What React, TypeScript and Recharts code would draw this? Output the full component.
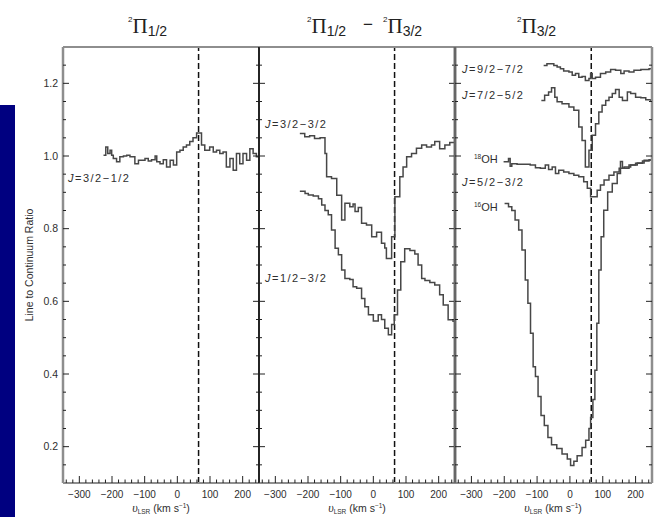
import React from "react";
import { LineChart, Line, XAxis, YAxis, ReferenceLine } from "recharts";

// Axis ranges, ticks and labels
const velocityDomain: [number, number] = [-350, 250];
const ratioDomain: [number, number] = [0.1, 1.3];
const velocityTicks = [
  -340, -320, -300, -280, -260, -240, -220, -200, -180, -160, -140, -120, -100, -80, -60, -40, -20,
  0, 20, 40, 60, 80, 100, 120, 140, 160, 180, 200, 220, 240,
];
const velocityLabels = [-300, -200, -100, 0, 100, 200];
const ratioTicks = [
  0.15, 0.2, 0.25, 0.3, 0.35, 0.4, 0.45, 0.5, 0.55, 0.6, 0.65, 0.7, 0.75, 0.8, 0.85, 0.9, 0.95, 1.0,
  1.05, 1.1, 1.15, 1.2, 1.25,
];
const ratioLabels = [0.2, 0.4, 0.6, 0.8, 1.0, 1.2];
const systemicVelocity = 65;

// 2Π1/2  J=3/2−1/2
const j32to12Vel = [
  -226, -219, -213, -206, -201, -196, -186, -176, -165, -155, -145, -130, -119, -99, -89, -79, -68,
  -63, -53, -43, -33, -22, -12, -2, 8, 18, 28, 38, 48, 59, 74, 84, 99, 110, 120, 130, 140, 150, 161,
  171, 181, 191, 201, 212, 222, 232, 242, 250,
];
const j32to12Ratio = [
  1.002, 1.025, 1.007, 1.016, 1.002, 0.993, 0.984, 0.998, 1.0, 1.002, 0.998, 0.979, 0.988, 0.993,
  0.986, 0.99, 1.0, 0.984, 0.979, 0.99, 0.97, 0.988, 0.975, 1.011, 1.016, 1.025, 1.03, 1.04, 1.05,
  1.063, 1.03, 1.016, 1.025, 1.011, 1.016, 1.007, 1.011, 0.97, 0.993, 0.961, 1.007, 0.979, 1.007,
  0.988, 1.02, 1.007, 0.998, 0.998,
];

// 2Π1/2 − 2Π3/2  J=3/2−3/2
const j32to32Vel = [
  -225, -210, -195, -180, -163, -148, -143, -128, -112, -97, -87, -72, -62, -56, -46, -36, -21, -5,
  10, 25, 35, 40, 56, 66, 81, 91, 102, 117, 132, 148, 163, 178, 188, 203, 219, 234, 250,
];
const j32to32Ratio = [
  1.062, 1.053, 1.056, 1.048, 1.05, 1.007, 0.943, 0.938, 0.892, 0.824, 0.87, 0.86, 0.868, 0.847,
  0.858, 0.815, 0.81, 0.778, 0.79, 0.76, 0.747, 0.718, 0.778, 0.888, 0.943, 0.97, 0.998, 1.007, 1.021,
  1.03, 1.025, 1.03, 1.04, 1.02, 1.03, 1.037, 1.037,
];

// 2Π1/2 − 2Π3/2  J=1/2−3/2
const j12to32Vel = [
  -225, -209, -199, -184, -168, -158, -148, -138, -128, -117, -107, -97, -87, -72, -62, -51, -36, -26,
  -15, 0, 15, 25, 35, 46, 56, 64, 74, 84, 96, 112, 127, 137, 148, 158, 173, 188, 203, 214, 229, 244,
  250,
];
const j12to32Ratio = [
  0.903, 0.897, 0.893, 0.89, 0.882, 0.865, 0.85, 0.838, 0.796, 0.746, 0.728, 0.686, 0.663, 0.66, 0.64,
  0.636, 0.608, 0.585, 0.563, 0.546, 0.563, 0.55, 0.526, 0.508, 0.536, 0.563, 0.631, 0.709, 0.745,
  0.74, 0.73, 0.7, 0.663, 0.657, 0.652, 0.645, 0.618, 0.59, 0.549, 0.545, 0.545,
];

// 2Π3/2  J=9/2−7/2
const j92to72Vel = [
  -80, -70, -49, -39, -29, -19, -3, 7, 17, 27, 37, 47, 58, 63, 68, 78, 93, 109, 124, 139, 155, 165,
  180, 195, 216, 241, 250,
];
const j92to72Ratio = [
  1.249, 1.254, 1.249, 1.245, 1.24, 1.234, 1.231, 1.222, 1.227, 1.217, 1.219, 1.208, 1.213, 1.227,
  1.213, 1.217, 1.227, 1.231, 1.238, 1.236, 1.227, 1.234, 1.231, 1.236, 1.238, 1.24, 1.24,
];

// 2Π3/2  J=7/2−5/2
const j72to52Vel = [
  -87, -77, -65, -56, -46, -39, -24, -3, 12, 27, 37, 47, 58, 68, 78, 88, 98, 109, 119, 129, 139, 150,
  160, 175, 185, 200, 216, 231, 246, 250,
];
const j72to52Ratio = [
  1.153, 1.167, 1.176, 1.188, 1.162, 1.149, 1.144, 1.135, 1.126, 1.08, 1.043, 0.97, 1.016, 1.057,
  1.089, 1.121, 1.14, 1.153, 1.162, 1.172, 1.183, 1.162, 1.153, 1.176, 1.172, 1.162, 1.16, 1.155,
  1.153, 1.153,
];

// 2Π3/2  J=5/2−3/2, 18OH
const oh18Vel = [
  -202, -187, -182, -177, -161, -121, -105, -90, -75, -65, -54, -44, -34, -19, -3, 12, 27, 42, 53, 63,
  83, 93, 104, 119, 134, 150, 165, 185, 205, 226, 246, 250,
];
const oh18Ratio = [
  0.984, 0.993, 0.972, 0.979, 0.977, 0.975, 0.968, 0.966, 0.975, 0.963, 0.97, 0.952, 0.961, 0.956,
  0.952, 0.947, 0.943, 0.929, 0.911, 0.888, 0.906, 0.92, 0.934, 0.947, 0.956, 0.966, 0.97, 0.975,
  0.981, 0.988, 0.99, 0.99,
];

// 2Π3/2  J=5/2−3/2, 16OH
const oh16Vel = [
  -199, -187, -177, -167, -156, -146, -136, -128, -120, -112, -105, -97, -88, -78, -67, -56, -40, -24,
  -8, 2, 12, 22, 37, 48, 58, 63, 70, 76, 82, 88, 95, 103, 115, 129, 144, 154, 160, 180, 200, 221, 241,
  250,
];
const oh16Ratio = [
  0.869, 0.86, 0.85, 0.824, 0.796, 0.741, 0.659, 0.595, 0.512, 0.42, 0.393, 0.338, 0.286, 0.258,
  0.225, 0.205, 0.195, 0.18, 0.166, 0.148, 0.16, 0.175, 0.198, 0.218, 0.25, 0.28, 0.33, 0.41, 0.54,
  0.686, 0.778, 0.851, 0.901, 0.924, 0.952, 0.985, 0.966, 0.975, 0.98, 0.986, 0.99, 0.99,
];

type Row = { v: number; r: number };
const toRows = (vel: number[], ratio: number[]): Row[] => vel.map((v, i) => ({ v, r: ratio[i] }));

const WIDTH = 657;
const HEIGHT = 517;
const PLOT_TOP = 47;
const PLOT_BOTTOM = 483;
const AXIS_BAND = 1; // thin axis band so the axes render without taking room
const SANS = "'Liberation Sans', Arial, Helvetica, sans-serif";
const SERIF = "'Liberation Serif', 'Times New Roman', serif";
const TEXT = "#2e2e2e";
const TICK = "#222";
const LINE = "#474747";

const fmtVel = (v: number) => (v < 0 ? `\u2212${Math.abs(v)}` : `${v}`);
const isMajorRatio = (r: number) => ratioLabels.some((m) => Math.abs(m - r) < 1e-6);

function VelTick(props: any) {
  const { x, y, payload, side, showLabel } = props;
  const major = velocityLabels.includes(payload.value);
  const len = major ? 7 : 3.5;
  const dir = side === "bottom" ? -1 : 1;
  return (
    <g>
      <line x1={x} x2={x} y1={y} y2={y + dir * len} stroke={TICK} strokeWidth={1} />
      {showLabel && major && (
        <text x={x} y={y + 14.5} textAnchor="middle" fontFamily={SANS} fontSize={10} fill={TEXT}>
          {fmtVel(payload.value)}
        </text>
      )}
    </g>
  );
}

function RatioTick(props: any) {
  const { x, y, payload, side, showLabel } = props;
  const major = isMajorRatio(payload.value);
  const len = major ? 6 : 3;
  const dir = side === "left" ? 1 : -1;
  return (
    <g>
      <line x1={x} x2={x + dir * len} y1={y} y2={y} stroke={TICK} strokeWidth={1} />
      {showLabel && major && (
        <text x={x - 5} y={y + 3.7} textAnchor="end" fontFamily={SANS} fontSize={10.5} fill={TEXT}>
          {payload.value.toFixed(1)}
        </text>
      )}
    </g>
  );
}

type SeriesDef = { name: string; vel: number[]; ratio: number[] };

type PanelProps = {
  left: number;
  right: number;
  series: SeriesDef[];
  yLabels: boolean;
  leftEdge: { stroke: string; w: number };
  rightEdge: { stroke: string; w: number };
};

function Panel({ left, right, series, yLabels, leftEdge, rightEdge }: PanelProps) {
  const frame = { stroke: "#8e8e8e", strokeWidth: 2 };
  return (
    <div style={{ position: "absolute", left: 0, top: 0 }}>
      <LineChart
        width={WIDTH}
        height={HEIGHT}
        margin={{
          top: PLOT_TOP - AXIS_BAND,
          bottom: HEIGHT - PLOT_BOTTOM - AXIS_BAND,
          left: left - AXIS_BAND,
          right: WIDTH - right - AXIS_BAND,
        }}
      >
        <XAxis
          xAxisId="b"
          type="number"
          dataKey="v"
          orientation="bottom"
          domain={velocityDomain}
          ticks={velocityTicks}
          interval={0}
          height={AXIS_BAND}
          tickSize={0}
          tickMargin={0}
          tickLine={false}
          axisLine={frame}
          allowDataOverflow
          tick={(p: any) => <VelTick {...p} side="bottom" showLabel />}
        />
        <XAxis
          xAxisId="t"
          type="number"
          orientation="top"
          domain={velocityDomain}
          ticks={velocityTicks}
          interval={0}
          height={AXIS_BAND}
          tickSize={0}
          tickMargin={0}
          tickLine={false}
          axisLine={frame}
          allowDataOverflow
          tick={(p: any) => <VelTick {...p} side="top" showLabel={false} />}
        />
        <YAxis
          yAxisId="l"
          type="number"
          orientation="left"
          domain={ratioDomain}
          ticks={ratioTicks}
          interval={0}
          width={AXIS_BAND}
          tickSize={0}
          tickMargin={0}
          tickLine={false}
          axisLine={{ stroke: leftEdge.stroke, strokeWidth: leftEdge.w }}
          allowDataOverflow
          tick={(p: any) => <RatioTick {...p} side="left" showLabel={yLabels} />}
        />
        <YAxis
          yAxisId="r"
          type="number"
          orientation="right"
          domain={ratioDomain}
          ticks={ratioTicks}
          interval={0}
          width={AXIS_BAND}
          tickSize={0}
          tickMargin={0}
          tickLine={false}
          axisLine={{ stroke: rightEdge.stroke, strokeWidth: rightEdge.w }}
          allowDataOverflow
          tick={(p: any) => <RatioTick {...p} side="right" showLabel={false} />}
        />
        <ReferenceLine
          xAxisId="b"
          yAxisId="l"
          x={systemicVelocity}
          stroke="#111"
          strokeWidth={1.5}
          strokeDasharray="6 3"
        />
        {series.map((s) => (
          <Line
            key={s.name}
            name={s.name}
            xAxisId="b"
            yAxisId="l"
            data={toRows(s.vel, s.ratio)}
            dataKey="r"
            type="stepAfter"
            dot={false}
            activeDot={false}
            stroke={LINE}
            strokeWidth={1.5}
            isAnimationActive={false}
          />
        ))}
      </LineChart>
    </div>
  );
}

function PiTerm({ x, sub }: { x: number; sub: string }) {
  return (
    <text x={x} y={33} fill="#222">
      <tspan fontFamily={SANS} fontSize={8} dy={-11}>
        2
      </tspan>
      <tspan fontFamily={SERIF} fontSize={21} dy={11}>
        Π
      </tspan>
      <tspan fontFamily={SANS} fontSize={14} dy={3}>
        {sub}
      </tspan>
    </text>
  );
}

function VelocityTitle({ cx }: { cx: number }) {
  return (
    <text x={cx} y={511.5} textAnchor="middle" fontFamily={SANS} fontSize={10.5} fill={TEXT}>
      <tspan fontFamily={SERIF} fontStyle="italic" fontSize={12}>
        υ
      </tspan>
      <tspan fontSize={6.5} dy={2}>
        LSR
      </tspan>
      <tspan dy={-2}>{" (km s"}</tspan>
      <tspan fontSize={6.5} dy={-3.5}>
        {"\u22121"}
      </tspan>
      <tspan dy={3.5}>)</tspan>
    </text>
  );
}

function TransitionLabel({ x, y, text }: { x: number; y: number; text: string }) {
  return (
    <text x={x} y={y} fontFamily={SANS} fontSize={11} letterSpacing={1.5} fill={TEXT}>
      <tspan fontStyle="italic">J</tspan>
      {text}
    </text>
  );
}

function IsotopeLabel({ x, y, mass }: { x: number; y: number; mass: string }) {
  return (
    <text x={x} y={y} fontFamily={SANS} fontSize={11} fill={TEXT}>
      <tspan fontSize={6.5} dy={-4}>
        {mass}
      </tspan>
      <tspan dy={4}>OH</tspan>
    </text>
  );
}

export default function App() {
  const dark = { stroke: "#1c1c1c", w: 1.6 };
  const mid = { stroke: "#666", w: 2.5 };
  const light = { stroke: "#8e8e8e", w: 2.5 };
  return (
    <div
      style={{
        position: "absolute",
        left: 0,
        top: 0,
        width: WIDTH,
        height: HEIGHT,
        background: "#fff",
        overflow: "hidden",
      }}
    >
      <Panel
        left={63}
        right={259}
        yLabels
        leftEdge={light}
        rightEdge={dark}
        series={[{ name: "J=3/2-1/2", vel: j32to12Vel, ratio: j32to12Ratio }]}
      />
      <Panel
        left={259}
        right={455}
        yLabels={false}
        leftEdge={dark}
        rightEdge={mid}
        series={[
          { name: "J=3/2-3/2", vel: j32to32Vel, ratio: j32to32Ratio },
          { name: "J=1/2-3/2", vel: j12to32Vel, ratio: j12to32Ratio },
        ]}
      />
      <Panel
        left={455}
        right={652}
        yLabels={false}
        leftEdge={mid}
        rightEdge={light}
        series={[
          { name: "J=9/2-7/2", vel: j92to72Vel, ratio: j92to72Ratio },
          { name: "J=7/2-5/2", vel: j72to52Vel, ratio: j72to52Ratio },
          { name: "18OH J=5/2-3/2", vel: oh18Vel, ratio: oh18Ratio },
          { name: "16OH J=5/2-3/2", vel: oh16Vel, ratio: oh16Ratio },
        ]}
      />
      <svg
        width={WIDTH}
        height={HEIGHT}
        style={{ position: "absolute", left: 0, top: 0, pointerEvents: "none" }}
      >
        <rect x={0} y={105} width={15} height={HEIGHT - 105} fill="#000080" />

        <PiTerm x={128} sub="1/2" />
        <PiTerm x={307} sub="1/2" />
        <text x={368} y={30} textAnchor="middle" fontFamily={SANS} fontSize={17} fill="#222">
          {"\u2212"}
        </text>
        <PiTerm x={383} sub="3/2" />
        <PiTerm x={517} sub="3/2" />

        <text
          x={0}
          y={0}
          transform="translate(33 265) rotate(-90)"
          textAnchor="middle"
          fontFamily={SANS}
          fontSize={10.5}
          fill={TEXT}
        >
          Line to Continuum Ratio
        </text>

        <VelocityTitle cx={161} />
        <VelocityTitle cx={357} />
        <VelocityTitle cx={553} />

        <TransitionLabel x={68} y={182} text={"=3/2\u22121/2"} />
        <TransitionLabel x={265} y={128} text={"=3/2\u22123/2"} />
        <TransitionLabel x={265} y={282} text={"=1/2\u22123/2"} />
        <TransitionLabel x={462} y={73} text={"=9/2\u22127/2"} />
        <TransitionLabel x={462} y={99} text={"=7/2\u22125/2"} />
        <IsotopeLabel x={474} y={163} mass="18" />
        <TransitionLabel x={462} y={186} text={"=5/2\u22123/2"} />
        <IsotopeLabel x={474} y={211} mass="16" />
      </svg>
    </div>
  );
}
